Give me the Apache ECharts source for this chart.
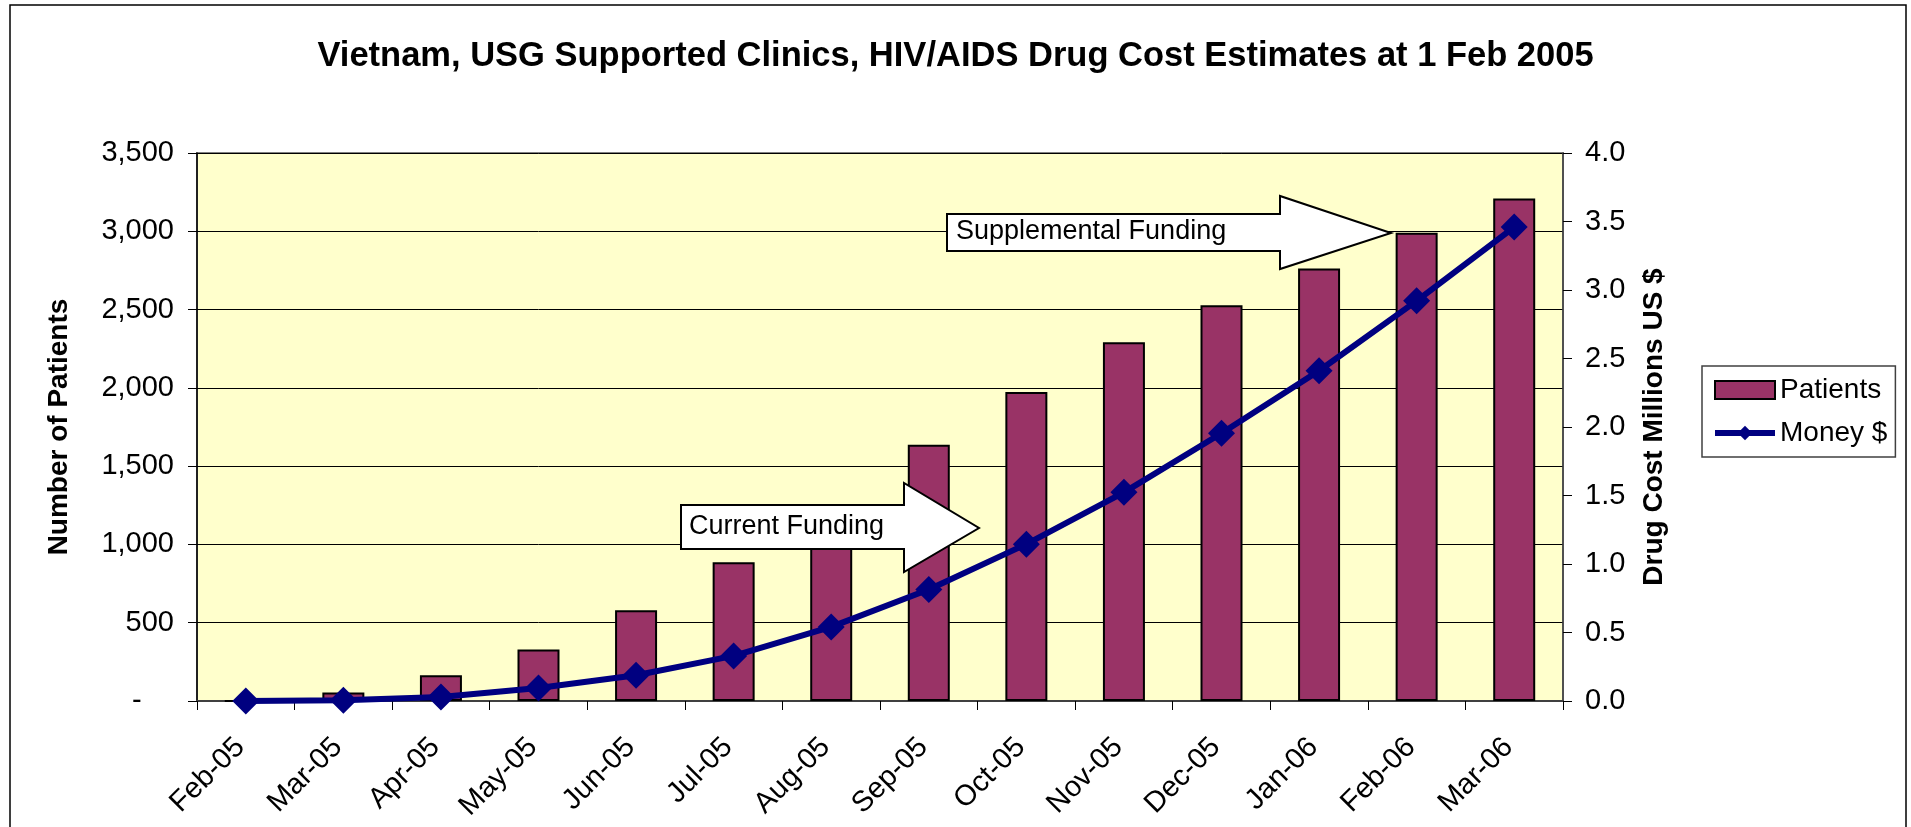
<!DOCTYPE html>
<html>
<head>
<meta charset="utf-8">
<script src="https://cdn.jsdelivr.net/npm/echarts@6/dist/echarts.min.js"></script>
<style>
html,body{margin:0;padding:0;background:#fff;}
#chart{width:1911px;height:827px;}
</style>
</head>
<body>
<div id="chart"></div>
<script>
var categories = ['Feb-05','Mar-05','Apr-05','May-05','Jun-05','Jul-05','Aug-05','Sep-05','Oct-05','Nov-05','Dec-05','Jan-06','Feb-06','Mar-06'];
var patients = [0, 54, 164, 329, 580, 886, 1245, 1636, 1973, 2291, 2528, 2762, 2991, 3209];
var money = [0, 0.005, 0.029, 0.095, 0.188, 0.329, 0.541, 0.814, 1.145, 1.523, 1.954, 2.411, 2.921, 3.459];
var leftTicks = {min: 0, max: 3500, interval: 500};
var rightTicks = {min: 0, max: 4, interval: 0.5};

var FONT = "'Liberation Sans', Arial, sans-serif";
var chart = echarts.init(document.getElementById('chart'), null, {renderer: 'canvas'});

function fmtLeft(v) {
  if (v === 0) return '-    ';
  return String(v).replace(/\B(?=(\d{3})+(?!\d))/g, ',');
}

var option = {
  animation: false,
  backgroundColor: '#ffffff',
  textStyle: {fontFamily: FONT},
  title: {
    text: 'Vietnam, USG Supported Clinics, HIV/AIDS Drug Cost Estimates at 1 Feb 2005',
    left: 'center',
    top: 34,
    textStyle: {fontSize: 34.5, fontWeight: 'bold', color: '#000', fontFamily: FONT}
  },
  legend: {
    orient: 'vertical',
    left: 1702,
    top: 366,
    padding: [10, 8, 10, 10],
    itemGap: 15,
    itemWidth: 60,
    itemHeight: 18,
    borderColor: '#404040',
    borderWidth: 1.5,
    backgroundColor: '#ffffff',
    lineStyle: {width: 6},
    textStyle: {fontSize: 28, color: '#000', fontFamily: FONT},
    data: [{name: 'Patients', icon: 'rect'}, {name: 'Money $'}]
  },
  grid: {
    left: 197,
    right: 1911 - 1563,
    top: 153,
    bottom: 827 - 701,
    show: true,
    backgroundColor: '#FFFFCC',
    borderColor: '#808080',
    borderWidth: 2
  },
  xAxis: {
    type: 'category',
    data: categories,
    boundaryGap: true,
    axisLine: {lineStyle: {color: '#404040', width: 2}},
    axisTick: {show: true, interval: 0, alignWithLabel: false, length: 9, lineStyle: {color: '#000', width: 1}},
    axisLabel: {interval: 0, rotate: 45, fontSize: 29, color: '#000', margin: 36, padding: [0, 8, 0, 0], fontFamily: FONT},
    splitLine: {show: false}
  },
  yAxis: [
    {
      type: 'value',
      position: 'left',
      min: leftTicks.min, max: leftTicks.max, interval: leftTicks.interval,
      axisLine: {show: true, lineStyle: {color: '#000', width: 1.5}},
      axisTick: {show: true, length: 9, lineStyle: {color: '#000', width: 1}},
      axisLabel: {fontSize: 29, color: '#000', margin: 23, formatter: fmtLeft, fontFamily: FONT},
      splitLine: {show: true, lineStyle: {color: '#000', width: 1}},
      name: 'Number of Patients',
      nameLocation: 'middle',
      nameRotate: 90,
      nameGap: 124,
      nameTextStyle: {fontSize: 28, fontWeight: 'bold', color: '#000', fontFamily: FONT}
    },
    {
      type: 'value',
      position: 'right',
      min: rightTicks.min, max: rightTicks.max, interval: rightTicks.interval,
      axisLine: {show: true, lineStyle: {color: '#404040', width: 1.5}},
      axisTick: {show: true, length: 9, lineStyle: {color: '#000', width: 1}},
      axisLabel: {fontSize: 29, color: '#000', margin: 22, formatter: function (v) { return v.toFixed(1); }, fontFamily: FONT},
      splitLine: {show: false},
      name: 'Drug Cost Millions US $',
      nameLocation: 'middle',
      nameRotate: 90,
      nameGap: 77,
      nameTextStyle: {fontSize: 28, fontWeight: 'bold', color: '#000', fontFamily: FONT}
    }
  ],
  series: [
    {
      name: 'Patients',
      type: 'bar',
      yAxisIndex: 0,
      data: patients,
      barWidth: 42,
      itemStyle: {color: '#993366', borderColor: '#000', borderWidth: 2}
    },
    {
      name: 'Money $',
      type: 'line',
      yAxisIndex: 1,
      data: money,
      symbol: 'diamond',
      symbolSize: 27,
      showAllSymbol: true,
      lineStyle: {color: '#000080', width: 6},
      itemStyle: {color: '#000080'},
      z: 3
    }
  ],
  graphic: [
    {
      type: 'rect', z: -1, silent: true,
      shape: {x: 10, y: 5, width: 1896, height: 830},
      style: {fill: null, stroke: '#000', lineWidth: 1.5}
    },
    {
      type: 'polygon', z: 100, silent: true,
      shape: {points: [[681, 505], [904, 505], [904, 483], [979, 528], [904, 572], [904, 549], [681, 549]]},
      style: {fill: '#fff', stroke: '#000', lineWidth: 2}
    },
    {
      type: 'text', z: 101, silent: true,
      style: {x: 689, y: 527, text: 'Current Funding', fontSize: 27, fontFamily: FONT, fill: '#000', verticalAlign: 'middle', align: 'left'}
    },
    {
      type: 'polygon', z: 100, silent: true,
      shape: {points: [[947, 214], [1280, 214], [1280, 196], [1391, 233], [1280, 269], [1280, 251], [947, 251]]},
      style: {fill: '#fff', stroke: '#000', lineWidth: 2}
    },
    {
      type: 'text', z: 101, silent: true,
      style: {x: 956, y: 232, text: 'Supplemental Funding', fontSize: 27, fontFamily: FONT, fill: '#000', verticalAlign: 'middle', align: 'left'}
    }
  ]
};
chart.setOption(option);
</script>
</body>
</html>
